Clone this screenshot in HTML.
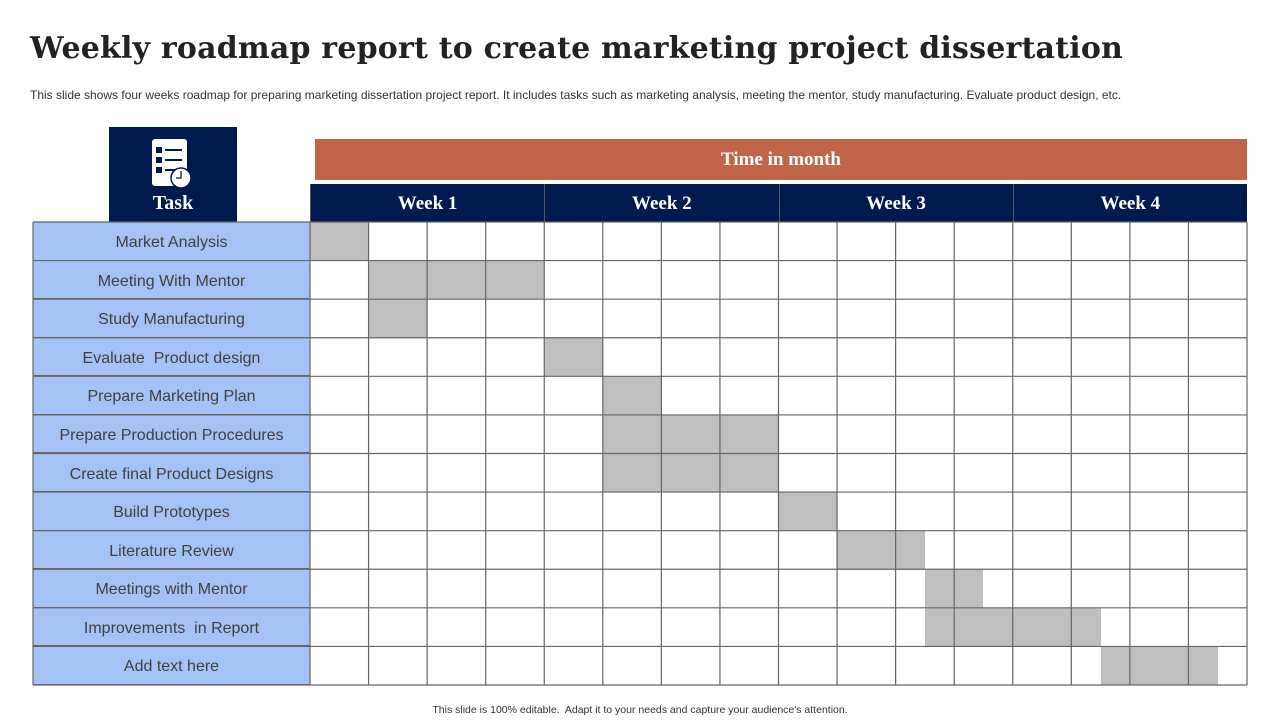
<!DOCTYPE html>
<html><head><meta charset="utf-8"><style>
body{margin:0;width:1280px;height:720px;background:#fff;position:relative;overflow:hidden;font-family:"Liberation Sans",sans-serif}
.abs{position:absolute}
h1{position:absolute;left:30px;top:31px;margin:0;font-family:"DejaVu Serif",serif;font-weight:bold;font-size:30px;color:#222;letter-spacing:0.2px;white-space:nowrap}
.sub{left:30px;top:88px;font-size:12px;color:#333;white-space:nowrap}
.foot{left:0;width:1280px;top:704px;text-align:center;font-size:10.5px;color:#333}
.wk{color:#fff;font-family:"Liberation Serif",serif;font-weight:bold;font-size:19px;text-align:center;line-height:40px;top:184px;height:38px;background:#001A4D;border-left:1px solid #555}
.task{background:#A4C2F4;color:#404040;font-size:16px;text-align:center;border-bottom:1px solid #666;box-sizing:border-box}
</style></head><body>
<h1>Weekly roadmap report to create marketing project dissertation</h1>
<div class="abs sub">This slide shows four weeks roadmap for preparing marketing dissertation project report. It includes tasks such as marketing analysis, meeting the mentor, study manufacturing. Evaluate product design, etc.</div>
<div class="abs" style="left:109px;top:127px;width:128px;height:95px;background:#001A4D">
<svg width="128" height="62" style="position:absolute;left:0;top:6px">
<rect x="43" y="6" width="35" height="47" rx="3" fill="#fff"/>
<rect x="47" y="14" width="6" height="6" fill="#001A4D"/><rect x="56" y="16" width="17" height="2" fill="#001A4D"/>
<rect x="47" y="24" width="6" height="6" fill="#001A4D"/><rect x="56" y="26" width="17" height="2" fill="#001A4D"/>
<rect x="47" y="34" width="6" height="6" fill="#001A4D"/><rect x="56" y="36" width="10" height="2" fill="#001A4D"/>
<circle cx="72" cy="45" r="10" fill="#fff" stroke="#001A4D" stroke-width="1.5"/>
<path d="M72 38 V45 H67" stroke="#001A4D" stroke-width="1.3" fill="none"/>
</svg>
<div class="abs" style="left:0;width:128px;top:65px;text-align:center;color:#fff;font-family:'Liberation Serif',serif;font-weight:bold;font-size:20px">Task</div>
</div>
<div class="abs" style="left:315px;top:139px;width:932px;height:41px;background:#C0654A;color:#fff;font-family:'Liberation Serif',serif;font-weight:bold;font-size:19px;text-align:center;line-height:41px">Time in month</div>
<div id="chart"></div>
<div class="abs foot">This slide is 100% editable.&nbsp; Adapt it to your needs and capture your audience's attention.</div>
<script>
const weeks=["Week 1","Week 2","Week 3","Week 4"];
const tasks=["Market Analysis","Meeting With Mentor","Study Manufacturing","Evaluate  Product design","Prepare Marketing Plan","Prepare Production Procedures","Create final Product Designs","Build Prototypes","Literature Review","Meetings with Mentor","Improvements  in Report","Add text here"];
const starts=[0,1,1,4,5,5,5,8,9,10.5,10.5,13.5];
const ends=[1,4,2,5,6,8,8,9,10.5,11.5,13.5,15.5];
const slots=16;
const gx0=310,gx1=1247,gy0=222,gy1=685;
const cw=(gx1-gx0)/slots,rh=(gy1-gy0)/tasks.length;
const X=v=>gx0+v*cw, Y=i=>gy0+i*rh;
const c=document.getElementById('chart');
function box(cls,st){const d=document.createElement('div');d.className='abs '+(cls||'');Object.assign(d.style,st);c.appendChild(d);return d;}
weeks.forEach((w,i)=>{const d=box('wk',{left:X(i*4)+'px',width:(4*cw-1)+'px'});d.textContent=w;

});
tasks.forEach((t,i)=>{const d=box('task',{left:'33px',top:Y(i)+'px',width:(gx0-33)+'px',height:rh+'px',lineHeight:(rh+3)+'px',whiteSpace:'pre'});d.textContent=t;


const b=box('',{left:X(starts[i])+'px',top:Y(i)+'px',width:(X(ends[i])-X(starts[i]))+'px',height:rh+'px',background:'#BFBFBF'});

});
const svgNS='http://www.w3.org/2000/svg';
const s=document.createElementNS(svgNS,'svg');s.setAttribute('width',1280);s.setAttribute('height',720);s.style.position='absolute';s.style.left=0;s.style.top=0;


function ln(x1,y1,x2,y2){const l=document.createElementNS(svgNS,'line');l.setAttribute('x1',x1);l.setAttribute('y1',y1);l.setAttribute('x2',x2);l.setAttribute('y2',y2);l.setAttribute('stroke','#666');l.setAttribute('stroke-width',1.2);s.appendChild(l);}
for(let i=0;i<=slots;i++)ln(X(i),gy0,X(i),gy1);
for(let i=0;i<=tasks.length;i++)ln(33,Y(i),gx1,Y(i));
ln(33,gy0,33,gy1);
c.appendChild(s);
</script>
</body></html>
